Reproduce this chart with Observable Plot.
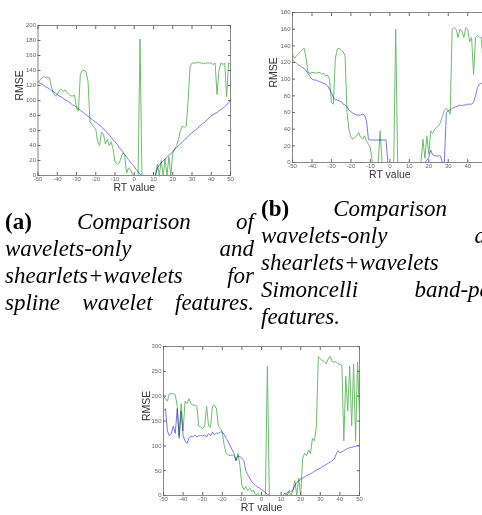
<!DOCTYPE html>
<html><head><meta charset="utf-8">
<script src="https://cdn.jsdelivr.net/npm/d3@7"></script>
<script src="https://cdn.jsdelivr.net/npm/@observablehq/plot@0.6"></script>
<style>
html,body{margin:0;padding:0;background:#fff;overflow:hidden;width:482px;height:515px;}
#page{position:relative;width:482px;height:515px;overflow:hidden;background:#fff;}
.chart{position:absolute;}
.chart svg{overflow:visible;max-width:none !important;display:block;}
.cap{position:absolute;font-family:"Liberation Serif","Times New Roman",serif;font-size:23px;line-height:27px;color:#000;}
.cap div{text-align:justify;text-align-last:justify;}
.cap div.last{text-align-last:left;}
.cap i{font-style:italic;}
</style>
</head><body>
<div id="page">
  <div id="ca" class="chart" style="left:0;top:0;width:240px"></div>
  <div id="cb" class="chart" style="left:240px;top:0;width:262px"></div>
  <div id="cc" class="chart" style="left:120px;top:280px;width:260px"></div>
  <div class="cap" style="left:5px;top:208px;width:249px">
    <div><b>(a)</b> <i>Comparison of</i></div>
    <div><i>wavelets-only and</i></div>
    <div><i>shearlets+wavelets for</i></div>
    <div><i>spline wavelet features.</i></div>
  </div>
  <div class="cap" style="left:261px;top:195px;width:248px">
    <div><b>(b)</b> <i>Comparison of</i></div>
    <div><i>wavelets-only and</i></div>
    <div><i>shearlets+wavelets for</i></div>
    <div><i>Simoncelli band-pass</i></div>
    <div class="last"><i>features.</i></div>
  </div>
</div>
<script>
const rtValues = [-50,-49,-48,-47,-46,-45,-44,-43,-42,-41,-40,-39,-38,-37,-36,-35,-34,-33,-32,-31,-30,-29,-28,-27,-26,-25,-24,-23,-22,-21,-20,-19,-18,-17,-16,-15,-14,-13,-12,-11,-10,-9,-8,-7,-6,-5,-4,-3,-2,-1,0,1,2,3,4,5,6,7,8,9,10,11,12,13,14,15,16,17,18,19,20,21,22,23,24,25,26,27,28,29,30,31,32,33,34,35,36,37,38,39,40,41,42,43,44,45,46,47,48,49,50];
const xTicks = [-50,-40,-30,-20,-10,0,10,20,30,40,50];
const yTicksA = [0,20,40,60,80,100,120,140,160,180,200];
const yTicksB = [0,20,40,60,80,100,120,140,160,180];
const yTicksC = [0,50,100,150,200,250,300];

// (a) spline wavelet features
const shearWavA = [124,127,130,132,131,131,130,118,110,106,
 108,113,115,112,114,111,108,106,106,107,
 90,86,135,140,140,138,125,72,68,64,
 62,45,40,58,55,42,48,40,45,35,
 18,15,16,22,30,28,3,10,8,2,
 0,0,0,182,0,0,0,0,0,0,
 0,0,15,0,20,0,22,0,25,0,
 30,35,40,48,60,66,64,66,100,145,
 150,150,150,151,150,150,149,150,150,150,
 150,148,150,108,140,150,148,150,105,150,
 148];
const wavOnlyA = [125,123,122,120,118,117,115,113,112,110,
 108,106,105,103,101,100,98,96,94,93,
 91,89,87,85,83,81,79,77,75,73,
 71,69,67,65,62,60,57,54,51,48,
 45,42,38,35,32,28,25,21,18,15,
 12,8,5,2,0,0,0,0,0,0,
 0,0,10,14,17,19,22,24,27,29,
 32,35,37,40,42,45,47,50,52,55,
 57,59,61,63,66,68,70,72,75,77,
 80,81,83,84,86,88,90,92,94,97,
 100];

// (b) Simoncelli band-pass features
const shearWavB = [130,125,128,130,133,135,137,125,108,107,
 108,108,107,108,108,106,107,104,105,100,
 72,70,125,136,137,135,133,128,60,40,
 30,28,30,32,36,30,28,32,25,22,
 18,0,0,0,0,38,0,0,0,0,
 0,0,0,160,0,0,0,0,0,0,
 0,0,0,0,0,0,0,28,5,32,
 10,38,35,40,42,44,48,55,63,65,
 62,58,160,162,160,150,160,158,150,162,
 160,145,150,105,150,152,150,150,115,150,
 148];
const wavOnlyB = [123,121,119,117,116,114,113,110,107,103,
 100,99,99,98,97,96,95,94,92,88,
 84,78,75,75,74,73,70,69,67,63,
 61,59,58,57,57,57,58,57,50,28,
 27,27,27,27,27,27,27,27,27,0,
 0,0,0,0,0,0,0,0,0,0,
 0,0,0,0,0,0,0,0,0,3,
 6,15,9,8,8,8,8,0,0,60,
 62,63,65,66,67,68,69,68,69,69,
 70,70,70,72,80,90,94,95,95,96,
 96];

// (c) third feature set
const shearWavC = [200,195,190,205,205,205,203,180,120,185,
 130,190,185,195,185,182,182,180,140,138,
 135,140,180,140,138,180,182,175,140,135,
 128,100,85,82,80,82,80,70,85,60,
 20,12,18,10,15,8,10,0,5,0,
 0,0,0,260,0,0,0,0,0,0,
 0,0,5,0,8,0,10,30,0,35,
 0,75,85,80,92,85,115,110,140,280,
 275,272,270,265,275,280,270,268,270,265,
 264,262,110,240,170,260,140,265,110,268,
 160];
const wavOnlyC = [170,175,130,120,125,140,125,175,115,170,
 120,110,105,115,120,118,122,118,120,121,
 120,122,118,125,120,128,122,126,125,128,
 128,122,115,108,100,92,85,70,80,78,
 75,70,50,42,35,28,24,20,17,15,
 12,9,6,2,0,0,0,0,0,0,
 0,0,0,5,10,8,10,20,26,30,
 33,35,37,40,42,44,46,49,51,53,
 55,58,60,62,65,67,70,73,82,90,
 86,88,90,93,95,96,97,98,99,100,
 101];

const GREEN = "#6dbb6d";
const BLUE = "#7676f4";

function rmseChart(o) {
  const g = rtValues.map((x, i) => ({x, y: o.green[i]}));
  const b = rtValues.map((x, i) => ({x, y: o.blue[i]}));
  const fmt = d => String(d);
  return Plot.plot({
    width: o.width, height: o.height,
    marginLeft: o.ml, marginRight: o.mr, marginTop: o.mt, marginBottom: o.mb,
    style: {fontFamily: "'Liberation Sans', Arial, sans-serif", fontSize: "6px", color: "#666", background: "transparent", overflow: "visible", maxWidth: "none"},
    x: {domain: [-50, 50]},
    y: {domain: [0, o.yMax]},
    marks: [
      Plot.line(g, {x: "x", y: "y", stroke: GREEN, strokeWidth: 1, mixBlendMode: "multiply"}),
      Plot.line(b, {x: "x", y: "y", stroke: BLUE, strokeWidth: 1, mixBlendMode: "multiply"}),
      Plot.frame({stroke: "#888"}),
      Plot.axisX({ticks: xTicks, tickSize: -3, tickPadding: 4, tickFormat: fmt, label: null}),
      Plot.axisX({anchor: "top", ticks: xTicks, tickSize: -3, tickFormat: () => "", label: null}),
      Plot.axisY({ticks: o.yTicks, tickSize: -3, tickPadding: 5, tickFormat: fmt, label: null}),
      Plot.axisY({anchor: "right", ticks: o.yTicks, tickSize: -3, tickFormat: () => "", label: null}),
      Plot.text(["RMSE"], {frameAnchor: "left", rotate: -90, dx: o.rmseDx, fontSize: 10.5, fill: "#333"}),
      Plot.text(["RT value"], {frameAnchor: "bottom", dy: o.rtDy, fontSize: 10.5, fill: "#333"})
    ]
  });
}

document.getElementById("ca").append(rmseChart({green: shearWavA, blue: wavOnlyA, yMax: 200, yTicks: yTicksA,
  width: 240, height: 200, ml: 37.5, mr: 10, mt: 25, mb: 25, rmseDx: -18, rtDy: 15}));
document.getElementById("cb").append(rmseChart({green: shearWavB, blue: wavOnlyB, yMax: 180, yTicks: yTicksB,
  width: 262, height: 190, ml: 52, mr: 15.3, mt: 12, mb: 28, rmseDx: -19, rtDy: 15}));
document.getElementById("cc").append(rmseChart({green: shearWavC, blue: wavOnlyC, yMax: 300, yTicks: yTicksC,
  width: 260, height: 235, ml: 43, mr: 21, mt: 66, mb: 20, rmseDx: -17, rtDy: 15}));
</script>
</body></html>
